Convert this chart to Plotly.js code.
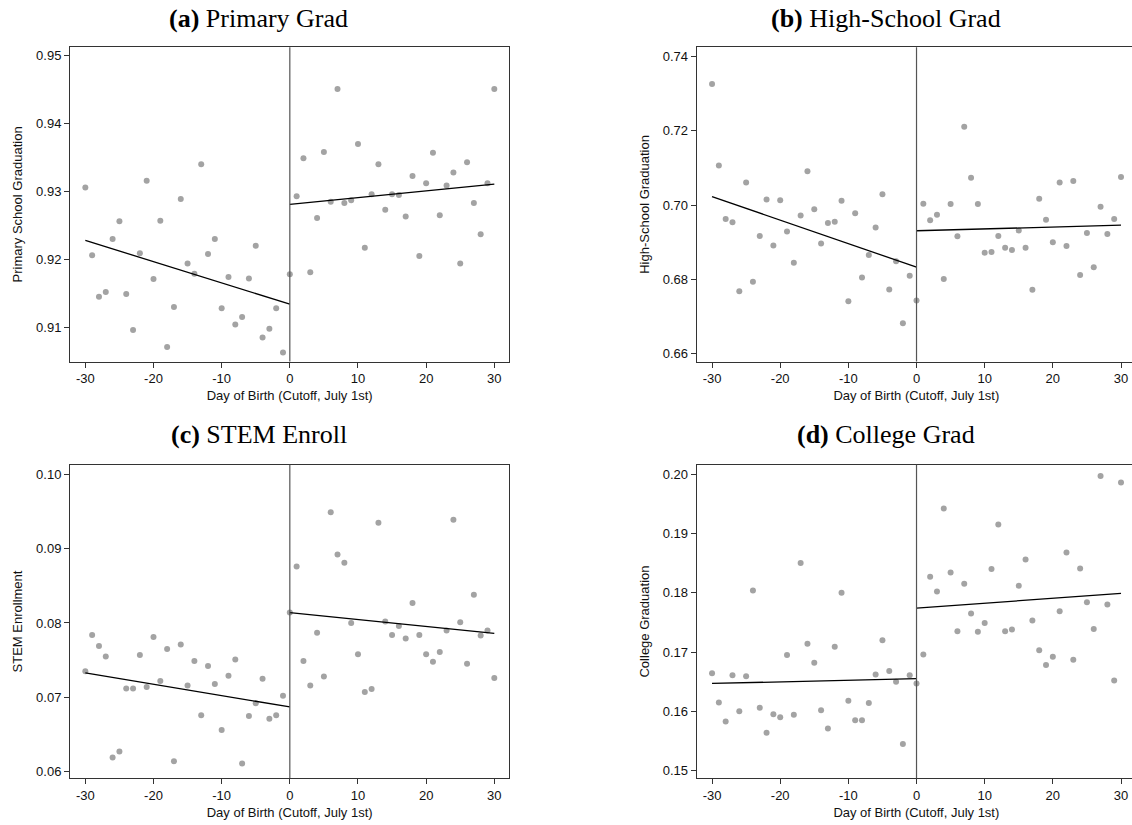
<!DOCTYPE html>
<html>
<head>
<meta charset="utf-8">
<script src="https://cdn.plot.ly/plotly-3.0.1.min.js"></script>
<style>
html,body{margin:0;padding:0;overflow:hidden;background:#fff;}
#chart{width:1140px;height:825px;}
</style>
</head>
<body>
<div id="chart"></div>
<script>
// Day of birth relative to cutoff (July 1st)
const days = [-30,-29,-28,-27,-26,-25,-24,-23,-22,-21,-20,-19,-18,-17,-16,-15,-14,-13,-12,-11,-10,-9,-8,-7,-6,-5,-4,-3,-2,-1,0,
  1,2,3,4,5,6,7,8,9,10,11,12,13,14,15,16,17,18,19,20,21,22,23,24,25,26,27,28,29,30];

const primaryGrad = [0.9306,0.9206,0.9145,0.9152,0.9230,0.9256,0.9149,0.9096,0.9209,0.9316,0.9171,0.9257,0.9071,0.9130,0.9289,0.9194,0.9179,0.9340,0.9208,0.9230,0.9128,0.9174,0.9104,0.9115,0.9172,0.9220,0.9085,0.9098,0.9128,0.9063,0.9178,
  0.9293,0.9349,0.9181,0.9261,0.9358,0.9285,0.9451,0.9283,0.9287,0.9370,0.9217,0.9296,0.9340,0.9273,0.9296,0.9295,0.9263,0.9323,0.9205,0.9312,0.9357,0.9265,0.9309,0.9328,0.9194,0.9343,0.9283,0.9237,0.9312,0.9451];

const highSchoolGrad = [0.7326,0.7107,0.6963,0.6954,0.6768,0.7061,0.6794,0.6917,0.7015,0.6891,0.7013,0.6929,0.6845,0.6972,0.7091,0.6989,0.6897,0.6952,0.6955,0.7012,0.6741,0.6978,0.6805,0.6866,0.6940,0.7029,0.6773,0.6849,0.6682,0.6810,0.6743,
  0.7004,0.6959,0.6974,0.6801,0.7003,0.6916,0.7211,0.7074,0.7003,0.6872,0.6874,0.6917,0.6885,0.6879,0.6932,0.6885,0.6772,0.7017,0.6961,0.6900,0.7061,0.6890,0.7065,0.6812,0.6925,0.6833,0.6996,0.6922,0.6963,0.7076];

const stemEnroll = [0.0735,0.0784,0.0769,0.0755,0.0619,0.0627,0.0712,0.0712,0.0757,0.0714,0.0781,0.0722,0.0765,0.0614,0.0771,0.0716,0.0749,0.0676,0.0742,0.0718,0.0656,0.0729,0.0751,0.0611,0.0675,0.0692,0.0725,0.0671,0.0676,0.0702,0.0814,
  0.0876,0.0749,0.0716,0.0787,0.0728,0.0949,0.0892,0.0881,0.0800,0.0758,0.0707,0.0711,0.0935,0.0802,0.0784,0.0796,0.0779,0.0827,0.0784,0.0758,0.0748,0.0761,0.0790,0.0939,0.0801,0.0745,0.0838,0.0783,0.0790,0.0726];

const collegeGrad = [0.1664,0.1615,0.1583,0.1661,0.1600,0.1659,0.1804,0.1606,0.1564,0.1595,0.1590,0.1695,0.1594,0.1850,0.1714,0.1682,0.1602,0.1571,0.1709,0.1800,0.1618,0.1585,0.1585,0.1614,0.1662,0.1720,0.1668,0.1650,0.1545,0.1661,0.1647,
  0.1696,0.1827,0.1802,0.1942,0.1834,0.1735,0.1815,0.1765,0.1734,0.1749,0.1840,0.1915,0.1735,0.1738,0.1812,0.1856,0.1753,0.1703,0.1678,0.1692,0.1769,0.1868,0.1687,0.1841,0.1784,0.1739,0.1997,0.1780,0.1652,0.1986];

// Fitted lines (endpoints)
const fitLeftX = [-30, 0];
const fitRightX = [0, 30];
const primaryFitLeft = [0.9228, 0.9134];
const primaryFitRight = [0.9281, 0.9311];
const highSchoolFitLeft = [0.7023, 0.6833];
const highSchoolFitRight = [0.6931, 0.6946];
const stemFitLeft = [0.0733, 0.0687];
const stemFitRight = [0.0814, 0.0786];
const collegeFitLeft = [0.1647, 0.1655];
const collegeFitRight = [0.1774, 0.1799];

// Tick labels
const xTickVals = [-30,-20,-10,0,10,20,30];
const xTickText = ['-30','-20','-10','0','10','20','30'];
const primaryTicks = [0.91,0.92,0.93,0.94,0.95];
const highSchoolTicks = [0.66,0.68,0.70,0.72,0.74];
const stemTicks = [0.06,0.07,0.08,0.09,0.10];
const collegeTicks = [0.15,0.16,0.17,0.18,0.19,0.20];

const panelTitles = ['<b>(a)</b> Primary Grad','<b>(b)</b> High-School Grad','<b>(c)</b> STEM Enroll','<b>(d)</b> College Grad'];
const yTitles = ['Primary School Graduation','High-School Graduation','STEM Enrollment','College Graduation'];
const xTitle = 'Day of Birth (Cutoff, July 1st)';

const W = 1140, H = 825;
const sans = 'Liberation Sans, Arial, Helvetica, sans-serif';
const dotColor = '#a3a3a3';

const panels = [
  {y: primaryGrad, fl: primaryFitLeft, fr: primaryFitRight, ticks: primaryTicks, range: [0.90496, 0.95124], px: [70, 509.3], py: [47.3, 361.5]},
  {y: highSchoolGrad, fl: highSchoolFitLeft, fr: highSchoolFitRight, ticks: highSchoolTicks, range: [0.6579, 0.7425], px: [696.7, 1136], py: [47.3, 361.5]},
  {y: stemEnroll, fl: stemFitLeft, fr: stemFitRight, ticks: stemTicks, range: [0.0591, 0.1013], px: [70, 509.3], py: [464.7, 778.3]},
  {y: collegeGrad, fl: collegeFitLeft, fr: collegeFitRight, ticks: collegeTicks, range: [0.1487, 0.2016], px: [696.7, 1136], py: [464.7, 778.3]}
];
const titlePos = [[258, 18], [886, 18], [259, 435], [886, 435]];

const traces = [];
const layout = {
  width: W, height: H,
  margin: {l:0, r:0, t:0, b:0},
  paper_bgcolor: '#fff', plot_bgcolor: '#fff',
  showlegend: false,
  font: {family: sans, size: 13, color: '#111'},
  shapes: [], annotations: []
};

panels.forEach((p, i) => {
  const n = i + 1;
  const xa = 'x' + (n === 1 ? '' : n), ya = 'y' + (n === 1 ? '' : n);
  traces.push({x: days, y: p.y, xaxis: xa, yaxis: ya, type: 'scatter', mode: 'markers',
    marker: {color: dotColor, size: 6}, hoverinfo: 'x+y'});
  traces.push({x: fitLeftX, y: p.fl, xaxis: xa, yaxis: ya, type: 'scatter', mode: 'lines',
    line: {color: '#000', width: 1.3}});
  traces.push({x: fitRightX, y: p.fr, xaxis: xa, yaxis: ya, type: 'scatter', mode: 'lines',
    line: {color: '#000', width: 1.3}});
  const axCommon = {showgrid: false, zeroline: false, showline: true, mirror: true,
    linecolor: '#333', linewidth: 1, ticks: 'outside', ticklen: 5, tickcolor: '#333',
    tickfont: {family: sans, size: 13, color: '#111'}};
  layout['xaxis' + (n === 1 ? '' : n)] = Object.assign({}, axCommon, {
    domain: [p.px[0] / W, p.px[1] / W], anchor: ya, range: [-32.25, 32.2],
    tickmode: 'array', tickvals: xTickVals, ticktext: xTickText,
    title: {text: xTitle, font: {family: sans, size: 13, color: '#111'}, standoff: 5}
  });
  layout['yaxis' + (n === 1 ? '' : n)] = Object.assign({}, axCommon, {
    domain: [1 - p.py[1] / H, 1 - p.py[0] / H], anchor: xa, range: p.range,
    tickmode: 'array', tickvals: p.ticks, tickformat: '.2f',
    title: {text: yTitles[i], font: {family: sans, size: 13, color: '#111'}, standoff: 10}
  });
  layout.shapes.push({type: 'line', xref: xa, yref: ya + ' domain', x0: 0, x1: 0, y0: 0, y1: 1,
    line: {color: '#555', width: 1.2}});
  layout.annotations.push({text: panelTitles[i], xref: 'paper', yref: 'paper',
    x: titlePos[i][0] / W, y: 1 - titlePos[i][1] / H, xanchor: 'center', yanchor: 'middle',
    showarrow: false, font: {family: 'Liberation Serif, Times New Roman, serif', size: 26, weight: 'normal', color: '#000'}});
});

Plotly.newPlot('chart', traces, layout, {displayModeBar: false, staticPlot: true});
</script>
</body>
</html>
